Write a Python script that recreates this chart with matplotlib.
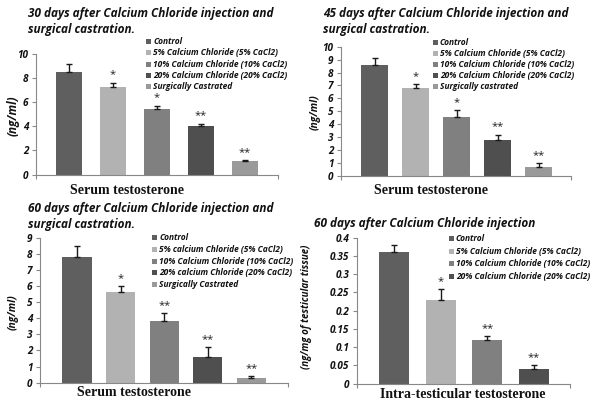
import matplotlib
matplotlib.use("Agg")
import matplotlib.pyplot as plt
from matplotlib.patches import Rectangle

# ---------------- data ----------------
colors = ['#5f5f5f', '#b2b2b2', '#808080', '#4f4f4f', '#9a9a9a']

p1_title = ["30 days after Calcium Chloride injection and", "surgical castration."]
p1_labels = ["Control", "5% Calcium Chloride (5% CaCl2)", "10% Calcium Chloride (10% CaCl2)",
             "20% Calcium Chloride (20% CaCl2)", "Surgically Castrated"]
p1_values = [8.5, 7.2, 5.4, 4.0, 1.1]
p1_errors = [0.6, 0.4, 0.3, 0.2, 0.1]
p1_stars = ["", "*", "*", "**", "**"]
p1_yticks = [0, 2, 4, 6, 8, 10]

p2_title = ["45 days after Calcium Chloride injection and", "surgical castration."]
p2_labels = ["Control", "5% Calcium Chloride (5% CaCl2)", "10% Calcium Chloride (10% CaCl2)",
             "20% Calcium Chloride (20% CaCl2)", "Surgically castrated"]
p2_values = [8.6, 6.8, 4.6, 2.8, 0.7]
p2_errors = [0.5, 0.3, 0.5, 0.4, 0.3]
p2_stars = ["", "*", "*", "**", "**"]
p2_yticks = [0, 1, 2, 3, 4, 5, 6, 7, 8, 9, 10]

p3_title = ["60 days after Calcium Chloride injection and", "surgical castration."]
p3_labels = ["Control", "5% calcium Chloride (5% CaCl2)", "10% Calcium Chloride (10% CaCl2)",
             "20% calcium Chloride (20% CaCl2)", "Surgically Castrated"]
p3_values = [7.8, 5.6, 3.8, 1.6, 0.3]
p3_errors = [0.7, 0.4, 0.5, 0.6, 0.1]
p3_stars = ["", "*", "**", "**", "**"]
p3_yticks = [0, 1, 2, 3, 4, 5, 6, 7, 8, 9]

p4_title = ["60 days after Calcium Chloride injection"]
p4_labels = ["Control", "5% Calcium Chloride (5% CaCl2)", "10% Calcium Chloride (10% CaCl2)",
             "20% Calcium Chloride (20% CaCl2)"]
p4_values = [0.36, 0.23, 0.12, 0.04]
p4_errors = [0.02, 0.03, 0.01, 0.01]
p4_stars = ["", "*", "**", "**"]
p4_yticks = [0, 0.05, 0.1, 0.15, 0.2, 0.25, 0.3, 0.35, 0.4]
p4_yticklabels = ["0", "0.05", "0.1", "0.15", "0.2", "0.25", "0.3", "0.35", "0.4"]

# ---------------- drawing ----------------
W, H = 600, 404
fig = plt.figure(figsize=(6.0, 4.04), dpi=100)
fig.patch.set_facecolor('white')

SANS = ['Open Sans', 'DejaVu Sans']
SERIF = ['Liberation Serif', 'DejaVu Serif']

def fx(x):
    return x / W

def fy(y):
    return 1 - y / H

def panel(rect_px, values, errors, stars, labels, yticks, yticklabels, xlim, width,
          title, title_x, title_base, ylabel, ylabel_xy, ylabel_size, xlabel, xlabel_xy,
          leg_x, leg_y0, leg_dy, tick_size=7.2):
    x0, x1, y0, y1 = rect_px  # left, right, y pixel of axis bottom, y pixel of axis top
    ax = fig.add_axes([fx(x0), fy(y0), (x1 - x0) / W, (y0 - y1) / H])
    n = len(values)
    xs = list(range(n))
    for i in xs:
        ax.bar(i, values[i], width=width, color=colors[i], edgecolor='none', zorder=2)
        ax.errorbar(i, values[i], yerr=[[0], [errors[i]]], fmt='none', ecolor='#1a1a1a',
                    elinewidth=1.0, capsize=2.2, capthick=1.0, zorder=3)
        if stars[i]:
            ax.annotate(stars[i], (i, values[i] + errors[i]), xytext=(0, 1.5),
                        textcoords='offset points', ha='center', va='bottom',
                        fontsize=8, color='#222222', family=SANS)
    ax.set_xlim(*xlim)
    ax.set_ylim(yticks[0], yticks[-1])
    ax.set_yticks(yticks)
    ax.set_yticklabels(yticklabels if yticklabels else [str(t) for t in yticks])
    for lab in ax.get_yticklabels():
        lab.set_fontstyle('italic')
        lab.set_fontweight('bold')
        lab.set_family(SANS)
        lab.set_fontsize(tick_size)
        lab.set_color('#111111')
    ax.set_xticks(list(xlim))
    ax.set_xticklabels([])
    ax.tick_params(axis='y', direction='out', length=3, width=0.8, color='#888888', pad=2.5)
    ax.tick_params(axis='x', direction='out', length=3, width=0.8, color='#888888')
    for s in ['top', 'right']:
        ax.spines[s].set_visible(False)
    for s in ['left', 'bottom']:
        ax.spines[s].set_color('#888888')
        ax.spines[s].set_linewidth(0.8)
    ax.set_facecolor('white')

    for k, line in enumerate(title):
        fig.text(fx(title_x), fy(title_base + 16 * k), line, ha='left', va='baseline',
                 fontsize=8.5, fontweight='bold', fontstyle='italic', family=SANS,
                 color='#111111')
    fig.text(fx(ylabel_xy[0]), fy(ylabel_xy[1]), ylabel, ha='center', va='center',
             rotation=90, fontsize=ylabel_size, fontweight='bold', fontstyle='italic',
             family=SANS, color='#111111')
    fig.text(fx(xlabel_xy[0]), fy(xlabel_xy[1]), xlabel, ha='center', va='center',
             fontsize=10, fontweight='bold', family=SERIF, color='#111111')
    # legend entries
    sq = 5
    for i, lab in enumerate(labels):
        yc = leg_y0 + leg_dy * i
        fig.add_artist(Rectangle((fx(leg_x), fy(yc + sq / 2)), sq / W, sq / H,
                                 transform=fig.transFigure, facecolor=colors[i],
                                 edgecolor='none'))
        fig.text(fx(leg_x + sq + 2), fy(yc), lab, ha='left', va='center',
                 fontsize=6.0, fontweight='bold', fontstyle='italic', family=SANS,
                 color='#111111')
    return ax

panel((36, 278, 174.5, 53.5), p1_values, p1_errors, p1_stars, p1_labels, p1_yticks, None,
      (-0.754, 4.754), 0.6, p1_title, 28, 17, "(ng/ml)", (13, 116), 8.5,
      "Serum testosterone", (127, 190), 146, 41.7, 11.2)

panel((341, 571, 176, 46.7), p2_values, p2_errors, p2_stars, p2_labels, p2_yticks, None,
      (-0.82, 4.79), 0.66, p2_title, 323, 17, "(ng/ml)", (315, 112), 7.5,
      "Serum testosterone", (431, 190), 433, 42.7, 11.0)

panel((40, 288, 382.7, 237.7), p3_values, p3_errors, p3_stars, p3_labels, p3_yticks, None,
      (-0.85, 4.84), 0.67, p3_title, 28, 212, "(ng/ml)", (13, 312), 7.5,
      "Serum testosterone", (134, 393), 152, 237.7, 11.7)

panel((357, 570, 383.7, 237.7), p4_values, p4_errors, p4_stars, p4_labels, p4_yticks,
      p4_yticklabels, (-0.79, 3.77), 0.64, p4_title, 314, 227,
      "(ng/mg of testicular tissue)", (307, 307), 7.0,
      "Intra-testicular testosterone", (463, 395), 449, 238.3, 12.7)

fig.savefig("out.png", dpi=100, facecolor='white')
